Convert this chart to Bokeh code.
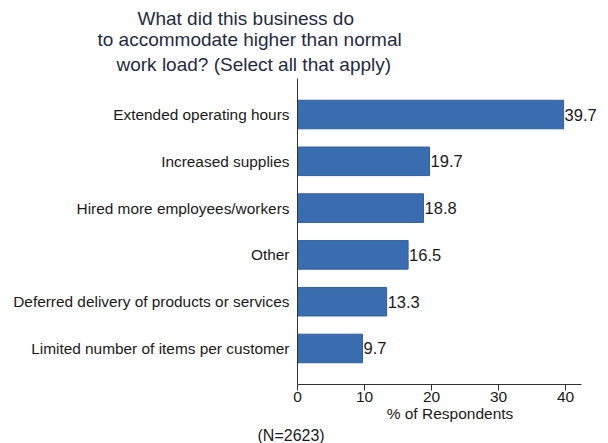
from bokeh.plotting import figure
from bokeh.models import Range1d, FixedTicker, ColumnDataSource, Title
from bokeh.embed import file_html
from bokeh.resources import INLINE
from bokeh.core.properties import value

categories = [
    "Extended operating hours",
    "Increased supplies",
    "Hired more employees/workers",
    "Other",
    "Deferred delivery of products or services",
    "Limited number of items per customer",
]
percents = [39.7, 19.7, 18.8, 16.5, 13.3, 9.7]
x_ticks = [0, 10, 20, 30, 40]
title_lines = [
    "What did this business do",
    "to accommodate higher than normal",
    "work load? (Select all that apply)",
]
x_label = "% of Respondents"
note = "(N=2623)"

n = len(categories)
ypos = [n - 1 - i for i in range(n)]
src = ColumnDataSource(dict(
    y=ypos, v=percents, lab=[f"{v:.1f}" for v in percents],
))

FONT = "Liberation Sans"
BAR = "#3a6db0"
TXT = "#1a1a1a"
TITLE_C = "#1e2b45"

p = figure(width=608, height=443, output_backend="svg", toolbar_location=None,
           x_range=Range1d(0, 45.5), y_range=Range1d(-0.77, n - 1 + 0.77),
           min_border_left=297, min_border_right=6, min_border_top=78,
           min_border_bottom=44)
p.outline_line_color = None
p.background_fill_color = "white"
p.border_fill_color = "white"
p.xgrid.visible = False
p.ygrid.visible = False

p.hbar(y="y", right="v", left=0, height=0.61, source=src,
       fill_color=BAR, line_color="#2f5f9e", line_width=1)
p.text(x="v", y="y", text="lab", source=src, x_offset=1,
       text_font=value(FONT), text_font_size="16.5px", text_color=TXT,
       text_baseline="middle", text_align="left")

# x axis
xa = p.xaxis[0]
xa.ticker = FixedTicker(ticks=x_ticks)
xa.bounds = (0, 42.3)
xa.minor_tick_line_color = None
xa.major_tick_out = 6
xa.major_tick_in = 0
xa.axis_line_color = "#333333"
xa.major_tick_line_color = "#333333"
xa.major_label_text_font = FONT
xa.major_label_text_font_size = "15.5px"
xa.major_label_text_color = TXT
xa.major_label_standoff = 1
xa.axis_label = x_label
xa.axis_label_text_font = FONT
xa.axis_label_text_font_size = "15.5px"
xa.axis_label_text_font_style = "normal"
xa.axis_label_text_color = TXT
xa.axis_label_standoff = 0

# y axis
ya = p.yaxis[0]
ya.ticker = FixedTicker(ticks=ypos)
ya.major_label_overrides = {yv: c for yv, c in zip(ypos, categories)}
ya.major_tick_line_color = None
ya.minor_tick_line_color = None
ya.axis_line_color = "#333333"
ya.major_label_text_font = FONT
ya.major_label_text_font_size = "15.4px"
ya.major_label_text_color = TXT
ya.major_label_standoff = 2

# title lines stacked above the frame (first added sits closest to frame)
offsets = [-160, -200, -181]
standoffs = [0, -4, 8]
for line, off, so in reversed(list(zip(title_lines, offsets, standoffs))):
    p.add_layout(Title(text=line, align="left", offset=off, standoff=so,
                       text_font=FONT, text_font_size="19px",
                       text_font_style="normal", text_color=TITLE_C), "above")

p.add_layout(Title(text=note, align="left", offset=-40, standoff=0,
                   text_font=FONT, text_font_size="16px",
                   text_font_style="normal", text_color=TXT), "below")

open("out.html", "w").write(file_html(p, INLINE))
